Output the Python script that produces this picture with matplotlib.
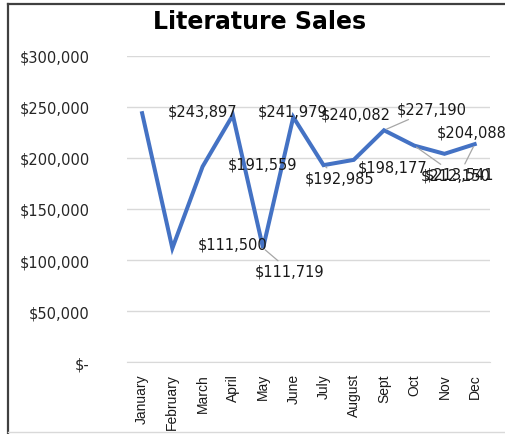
import matplotlib
matplotlib.use('Agg')
import matplotlib.pyplot as plt
from matplotlib.lines import Line2D
from matplotlib.ticker import FuncFormatter

months = ['January', 'February', 'March', 'April', 'May', 'June', 'July',
          'August', 'Sept', 'Oct', 'Nov', 'Dec']
sales = [243897, 111500, 191559, 241979, 111719, 240082, 192985,
         198177, 227190, 212150, 204088, 213541]
# where each data label sits, in pixels from its point (dx, dy); leader lines where Excel drew them
label_offsets = [(60, 2), (60, 4), (60, 3), (60, 4), (27, -23), (62, 3),
                 (16, -13), (39, -7), (48, 21), (41, -29), (27, 22), (-15, -30)]
leaders = [False, False, False, False, True, False,
           True, False, True, True, False, True]

blue = '#4472C4'
grid = '#d9d9d9'

fig = plt.figure(figsize=(5.06, 4.35), dpi=100)
ax = fig.add_axes([0.251, 0.1655, 0.717, 0.7035])

x = list(range(len(months)))
ax.plot(x, sales, color=blue, lw=2.9, solid_joinstyle='miter', zorder=3)

for i, v in enumerate(sales):
    dx, dy = label_offsets[i]
    kw = {}
    if leaders[i]:
        kw['arrowprops'] = dict(arrowstyle='-', color='#a6a6a6', lw=0.9,
                                shrinkA=0, shrinkB=2)
    ax.annotate('${:,}'.format(v), (i, v), xytext=(dx, dy),
                textcoords='offset pixels', ha='center', va='center',
                fontsize=10.5, color='#1a1a1a', zorder=4, **kw)

ax.set_xlim(-0.5, len(months) - 0.5)
ax.set_ylim(0, 300000)
ax.set_yticks(range(0, 300001, 50000))
ax.yaxis.set_major_formatter(FuncFormatter(
    lambda v, p: '$-' if v == 0 else '${:,.0f}'.format(v)))
ax.set_xticks(x)
ax.set_xticklabels(months, rotation=90, family='Liberation Sans',
                   fontsize=10, color='#1a1a1a')
ax.tick_params(axis='y', length=0, pad=27, labelsize=10.5, labelcolor='#262626')
ax.tick_params(axis='x', length=0, pad=8)

ax.grid(axis='y', color=grid, lw=1)
ax.set_axisbelow(True)
for s in ['top', 'right', 'left']:
    ax.spines[s].set_visible(False)
ax.spines['bottom'].set_color(grid)

fig.text(0.512, 0.95, 'Literature Sales', ha='center', va='center',
         fontsize=17, fontweight='bold', color='black')

# chart frame
fig.add_artist(Line2D([8 / 506, 1], [1 - 5 / 435, 1 - 5 / 435], color='#404040', lw=1.6))
fig.add_artist(Line2D([8 / 506, 8 / 506], [0, 1 - 5 / 435], color='#404040', lw=1.6))
fig.add_artist(Line2D([8 / 506, 1], [2 / 435, 2 / 435], color=grid, lw=1))

fig.savefig('out.png', dpi=100)
